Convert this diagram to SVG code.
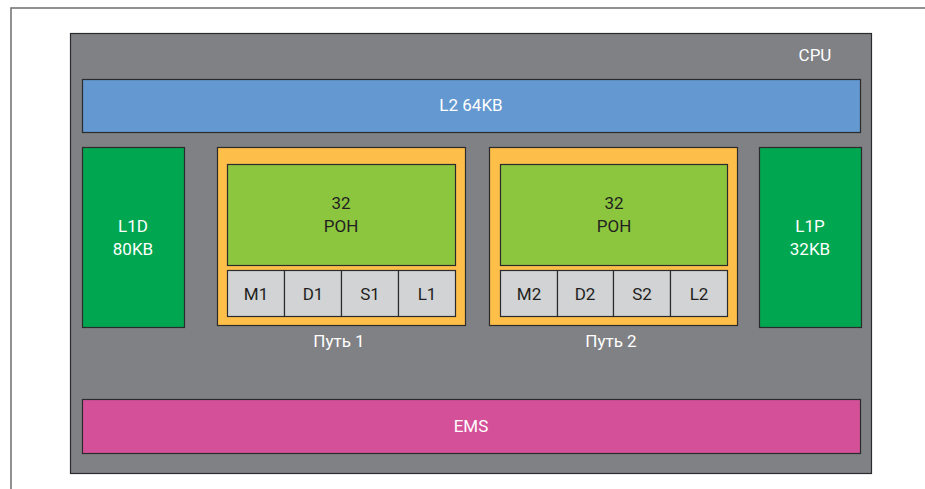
<svg xmlns="http://www.w3.org/2000/svg" width="925" height="489" viewBox="0 0 925 489">
  <style>
    text { font-family: Roboto, "Liberation Sans", sans-serif; font-size: 17px; text-anchor: middle; }
    .lt { fill: #ffffff; }
    .dk { fill: #231f20; }
    .box { stroke: #2b2a2c; stroke-width: 1.2; }
    .cpu { fill: #808184; }
    .l2 { fill: #6398d0; }
    .l1 { fill: #00a650; }
    .path { fill: #fdbe4a; }
    .rf { fill: #8cc63f; }
    .fu { fill: #d1d3d4; }
    .ems { fill: #d4519a; }
  </style>
  <rect width="925" height="489" fill="#ffffff"/>
  <!-- page frame -->
  <path d="M11 489 V8 H925" fill="none" stroke="#6d6e71" stroke-width="1.5"/>

  <g id="cpu">
    <rect class="box cpu" x="70.5" y="33.5" width="801" height="440" stroke-width="1.6"/>
    <text class="lt" x="815" y="61">CPU</text>
  </g>

  <g id="l2">
    <rect class="box l2" x="82.5" y="79.5" width="778" height="53"/>
    <text class="lt" x="471" y="111">L2 64KB</text>
  </g>

  <g id="l1d">
    <rect class="box l1" x="82.5" y="147.5" width="102" height="180"/>
    <text class="lt" x="133" y="232">L1D</text>
    <text class="lt" x="133" y="255">80KB</text>
  </g>

  <g id="l1p">
    <rect class="box l1" x="759.5" y="147.5" width="102" height="180"/>
    <text class="lt" x="810" y="232">L1P</text>
    <text class="lt" x="810" y="255">32KB</text>
  </g>

  <g id="path1">
    <rect class="box path" x="217.5" y="147.5" width="248" height="178"/>
    <rect class="box rf" x="227.5" y="164.5" width="228" height="101"/>
    <text class="dk" x="341" y="209">32</text>
    <text class="dk" x="341" y="232">РОН</text>
    <rect class="box fu" x="227.5" y="270.5" width="57" height="46"/>
    <rect class="box fu" x="284.5" y="270.5" width="57" height="46"/>
    <rect class="box fu" x="341.5" y="270.5" width="57" height="46"/>
    <rect class="box fu" x="398.5" y="270.5" width="57" height="46"/>
    <text class="dk" x="256" y="300">M1</text>
    <text class="dk" x="313" y="300">D1</text>
    <text class="dk" x="370" y="300">S1</text>
    <text class="dk" x="427" y="300">L1</text>
    <text class="lt" x="339" y="347">Путь 1</text>
  </g>

  <g id="path2">
    <rect class="box path" x="489.5" y="147.5" width="248" height="178"/>
    <rect class="box rf" x="500.5" y="164.5" width="227" height="101"/>
    <text class="dk" x="614" y="209">32</text>
    <text class="dk" x="614" y="232">РОН</text>
    <rect class="box fu" x="500.5" y="270.5" width="57" height="46"/>
    <rect class="box fu" x="557.5" y="270.5" width="56" height="46"/>
    <rect class="box fu" x="613.5" y="270.5" width="57" height="46"/>
    <rect class="box fu" x="670.5" y="270.5" width="57" height="46"/>
    <text class="dk" x="529" y="300">M2</text>
    <text class="dk" x="585" y="300">D2</text>
    <text class="dk" x="642" y="300">S2</text>
    <text class="dk" x="699" y="300">L2</text>
    <text class="lt" x="611" y="347">Путь 2</text>
  </g>

  <g id="ems">
    <rect class="box ems" x="82.5" y="399.5" width="778" height="54"/>
    <text class="lt" x="471" y="432">EMS</text>
  </g>

  <g id="connectors"></g>
</svg>
